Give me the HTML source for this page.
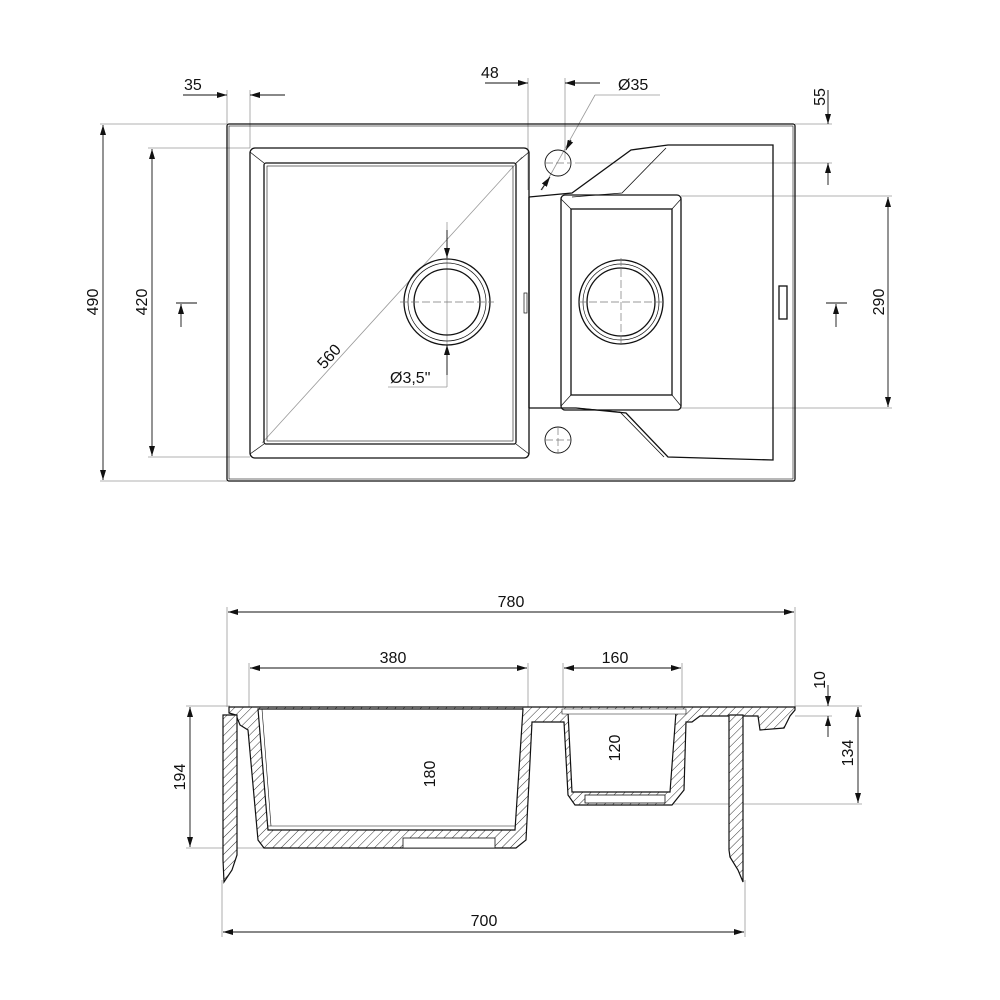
<!DOCTYPE html>
<html><head><meta charset="utf-8"><style>
html,body{margin:0;padding:0;background:#fff;}
svg{display:block;}
text{font-family:"Liberation Sans Narrow","Liberation Sans",sans-serif;font-size:16px;fill:#111;}
</style></head><body>
<svg width="1000" height="1000" viewBox="0 0 1000 1000" xmlns="http://www.w3.org/2000/svg">
<defs>
<pattern id="h" width="6" height="6" patternUnits="userSpaceOnUse" patternTransform="rotate(45)">
<rect width="6" height="6" fill="#fff"/><line x1="0" y1="0" x2="0" y2="6" stroke="#333" stroke-width="1"/>
</pattern>
<marker id="a" viewBox="0 0 10 6" refX="10" refY="3" markerWidth="10" markerHeight="6" orient="auto-start-reverse" markerUnits="userSpaceOnUse">
<path d="M0,0 L10,3 L0,6 Z" fill="#111"/></marker>
</defs>
<g fill="none" stroke="#999" stroke-width="0.8">
<line x1="100" y1="124" x2="227" y2="124"/><line x1="100" y1="481" x2="227" y2="481"/>
<line x1="148" y1="148" x2="250" y2="148"/><line x1="148" y1="457" x2="250" y2="457"/>
<line x1="227" y1="90" x2="227" y2="124"/><line x1="250" y1="90" x2="250" y2="148"/>
<line x1="528" y1="78" x2="528" y2="190"/><line x1="565" y1="78" x2="565" y2="160"/>
<line x1="795" y1="124" x2="832" y2="124"/><line x1="575" y1="163" x2="832" y2="163"/>
<line x1="681" y1="196" x2="892" y2="196"/><line x1="681" y1="408" x2="892" y2="408"/>
<line x1="262" y1="443" x2="522" y2="157"/>
<line x1="447" y1="222" x2="447" y2="387"/><line x1="388" y1="387" x2="447" y2="387"/>
<line x1="595" y1="95" x2="660" y2="95"/><line x1="595" y1="95" x2="542" y2="190"/>
<line x1="227" y1="607" x2="227" y2="707"/><line x1="795" y1="607" x2="795" y2="707"/>
<line x1="249" y1="663" x2="249" y2="707"/><line x1="528" y1="663" x2="528" y2="707"/>
<line x1="563" y1="663" x2="563" y2="712"/><line x1="682" y1="663" x2="682" y2="712"/>
<line x1="186" y1="706" x2="230" y2="706"/><line x1="186" y1="848" x2="410" y2="848"/>
<line x1="795" y1="706" x2="862" y2="706"/><line x1="795" y1="716" x2="832" y2="716"/>
<line x1="672" y1="804" x2="862" y2="804"/>
<line x1="222" y1="880" x2="222" y2="937"/><line x1="745" y1="880" x2="745" y2="937"/>
</g>
<g stroke="#111" stroke-width="0.9" fill="none">
<line x1="103" y1="125" x2="103" y2="480" marker-start="url(#a)" marker-end="url(#a)"/>
<line x1="152" y1="149" x2="152" y2="456" marker-start="url(#a)" marker-end="url(#a)"/>
<line x1="888" y1="197" x2="888" y2="407" marker-start="url(#a)" marker-end="url(#a)"/>
<line x1="183" y1="95" x2="227" y2="95" marker-end="url(#a)"/>
<line x1="285" y1="95" x2="250" y2="95" marker-end="url(#a)"/>
<line x1="485" y1="83" x2="528" y2="83" marker-end="url(#a)"/>
<line x1="600" y1="83" x2="565" y2="83" marker-end="url(#a)"/>
<line x1="828" y1="90" x2="828" y2="124" marker-end="url(#a)"/>
<line x1="828" y1="185" x2="828" y2="163" marker-end="url(#a)"/>
<line x1="447" y1="230" x2="447" y2="258" marker-end="url(#a)"/>
<line x1="447" y1="375" x2="447" y2="345" marker-end="url(#a)"/>
<line x1="571" y1="140" x2="566" y2="150" marker-end="url(#a)"/>
<line x1="541" y1="190" x2="550" y2="177" marker-end="url(#a)"/>
<line x1="176" y1="303" x2="197" y2="303"/><line x1="181" y1="327" x2="181" y2="304" marker-end="url(#a)"/>
<line x1="826" y1="303" x2="847" y2="303"/><line x1="836" y1="327" x2="836" y2="304" marker-end="url(#a)"/>
<line x1="228" y1="612" x2="794" y2="612" marker-start="url(#a)" marker-end="url(#a)"/>
<line x1="250" y1="668" x2="527" y2="668" marker-start="url(#a)" marker-end="url(#a)"/>
<line x1="564" y1="668" x2="681" y2="668" marker-start="url(#a)" marker-end="url(#a)"/>
<line x1="223" y1="932" x2="744" y2="932" marker-start="url(#a)" marker-end="url(#a)"/>
<line x1="190" y1="707" x2="190" y2="847" marker-start="url(#a)" marker-end="url(#a)"/>
<line x1="440" y1="709" x2="440" y2="833" marker-start="url(#a)" marker-end="url(#a)"/>
<line x1="625" y1="709" x2="625" y2="792" marker-start="url(#a)" marker-end="url(#a)"/>
<line x1="858" y1="707" x2="858" y2="803" marker-start="url(#a)" marker-end="url(#a)"/>
<line x1="828" y1="685" x2="828" y2="706" marker-end="url(#a)"/>
<line x1="828" y1="737" x2="828" y2="716" marker-end="url(#a)"/>
</g>
<g stroke="#111" stroke-width="1.3" fill="none">
<rect x="227" y="124" width="568" height="357" rx="2"/>
<rect x="229" y="126" width="564" height="353" stroke-width="0.6"/>
<rect x="250" y="148" width="279" height="310" rx="5"/>
<rect x="264" y="163" width="252" height="281" rx="2"/>
<rect x="267" y="166" width="246" height="275" stroke-width="0.6"/>
<line x1="250" y1="152" x2="264" y2="163" stroke-width="0.7"/><line x1="529" y1="152" x2="516" y2="163" stroke-width="0.7"/>
<line x1="250" y1="454" x2="264" y2="444" stroke-width="0.7"/><line x1="529" y1="454" x2="516" y2="444" stroke-width="0.7"/>
<circle cx="447" cy="302" r="43"/><circle cx="447" cy="302" r="39" stroke-width="0.7"/><circle cx="447" cy="302" r="33"/>
<rect x="561" y="195" width="120" height="215" rx="4"/>
<rect x="571" y="209" width="101" height="186"/>
<line x1="561" y1="199" x2="571" y2="209" stroke-width="0.7"/><line x1="681" y1="199" x2="672" y2="209" stroke-width="0.7"/>
<line x1="561" y1="406" x2="571" y2="395" stroke-width="0.7"/><line x1="681" y1="406" x2="672" y2="395" stroke-width="0.7"/>
<circle cx="621" cy="302" r="42"/><circle cx="621" cy="302" r="38" stroke-width="0.7"/><circle cx="621" cy="302" r="34"/>
<circle cx="558" cy="163" r="13" stroke-width="0.9"/><circle cx="558" cy="440" r="13" stroke-width="0.9"/>
<path d="M529,197 L572,193 L631,150 L668,145 L773,145 L773,460 L668,457 L626,413 L576,408 L529,408"/>
<path d="M572,197 L622,193 L666,148" stroke-width="0.8"/>
<path d="M576,408 L620,412 L664,457" stroke-width="0.8"/>
<line x1="529" y1="197" x2="529" y2="408"/>
<rect x="779" y="286" width="8" height="33"/>
<rect x="524" y="293" width="3" height="20" stroke-width="0.7"/>
</g>
<g stroke="#777" stroke-width="0.7" stroke-dasharray="8,3">
<line x1="400" y1="302" x2="494" y2="302"/><line x1="621" y1="258" x2="621" y2="346"/><line x1="578" y1="302" x2="664" y2="302"/>
<line x1="545" y1="163" x2="571" y2="163"/><line x1="545" y1="440" x2="571" y2="440"/><line x1="558" y1="427" x2="558" y2="453"/>
</g>
<g stroke="#111" stroke-width="1.2">
<path d="M229,707 L795,707 L795,710 L790,716 L784,728 L760,730 L758,716 L700,716 L692,722 L686,722 L684,790 L672,805 L575,805 L568,795 L564,722 L560,722 L535,722 L532,722 L526,840 L516,848 L264,848 L258,840 L248,730 L240,725 L236,715 L229,713 Z" fill="url(#h)"/>
<path d="M258,709 L523,709 L515,830 L268,830 Z" fill="#fff"/>
<path d="M568,712 L676,712 L670,792 L572,792 Z" fill="#fff"/>
<path d="M562,709 L686,709 L686,714 L562,714 Z" fill="#fff" stroke-width="0.6"/>
<rect x="403" y="838" width="92" height="10" fill="#fff" stroke-width="0.8"/>
<rect x="585" y="795" width="80" height="8" fill="#fff" stroke-width="0.8"/>
<path d="M223,715 L237,715 L237,855 L232,870 L224,882 L223,860 Z" fill="url(#h)"/>
<path d="M729,715 L743,715 L743,882 L738,870 L730,857 L729,850 Z" fill="url(#h)"/>
<line x1="268" y1="826" x2="515" y2="826" stroke-width="0.6"/>
<line x1="262" y1="709" x2="271" y2="826" stroke-width="0.6"/>
</g>
<text x="184" y="90">35</text>
<text x="481" y="78">48</text>
<text x="618" y="90">Ø35</text>
<text x="390" y="383">Ø3,5"</text>
<text transform="translate(825,97) rotate(-90)" text-anchor="middle">55</text>
<text transform="translate(98,302) rotate(-90)" text-anchor="middle">490</text>
<text transform="translate(147,302) rotate(-90)" text-anchor="middle">420</text>
<text transform="translate(884,302) rotate(-90)" text-anchor="middle">290</text>
<text transform="translate(333,360) rotate(-48)" text-anchor="middle">560</text>
<text x="511" y="607" text-anchor="middle">780</text>
<text x="393" y="663" text-anchor="middle">380</text>
<text x="615" y="663" text-anchor="middle">160</text>
<text x="484" y="926" text-anchor="middle">700</text>
<text transform="translate(185,777) rotate(-90)" text-anchor="middle">194</text>
<text transform="translate(435,774) rotate(-90)" text-anchor="middle">180</text>
<text transform="translate(620,748) rotate(-90)" text-anchor="middle">120</text>
<text transform="translate(825,680) rotate(-90)" text-anchor="middle">10</text>
<text transform="translate(853,753) rotate(-90)" text-anchor="middle">134</text>
</svg>
</body></html>
